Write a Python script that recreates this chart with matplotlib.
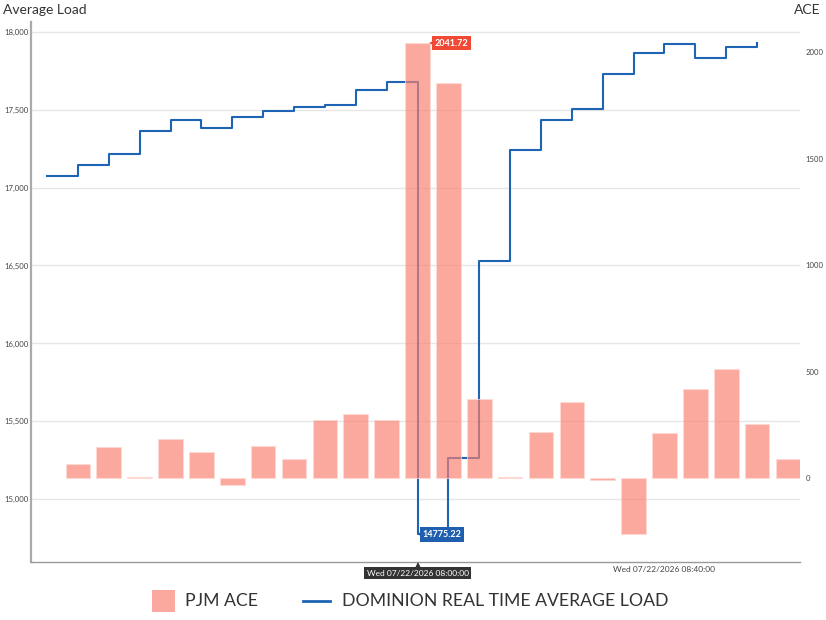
import matplotlib
matplotlib.use("Agg")
import matplotlib.pyplot as plt
import matplotlib.dates as mdates
from matplotlib.ticker import FuncFormatter
from matplotlib.patches import Rectangle
from matplotlib.lines import Line2D
import pandas as pd

plt.rcParams['font.family'] = ['Lato', 'DejaVu Sans']

# ---- data ----
line_times = pd.date_range('2026-07-22 07:00', periods=24, freq='5min')
bar_times = pd.date_range('2026-07-22 07:05', periods=24, freq='5min')

load = [17072, 17145, 17216, 17365, 17434, 17380, 17455, 17489, 17517, 17532,
        17624, 17678, 14775.22, 15265, 16530, 17242, 17434, 17504, 17731, 17861,
        17921, 17833, 17899, 17925]

ace = [64, 148, 3, 183, 122, -34, 150, 89, 272, 300,
       272, 2041.72, 1854, 370, 4, 216, 355, -8, -263, 213,
       418, 513, 255, 91]

left_ticks = [15000, 15500, 16000, 16500, 17000, 17500, 18000]
right_ticks = [0, 500, 1000, 1500, 2000]
xtick_time = pd.Timestamp('2026-07-22 08:40')
xtick_label = 'Wed 07/22/2026 08:40:00'
cross_time = pd.Timestamp('2026-07-22 08:00')
cross_label = 'Wed 07/22/2026 08:00:00'
ace_label_idx = 11
load_label_idx = 12

series_names = ['PJM ACE', 'DOMINION REAL TIME AVERAGE LOAD']

# ---- styles ----
BAR_C = '#fa8072'
LINE_C = '#1e63b4'
TXT = '#333333'
W, H = 826, 620

fig = plt.figure(figsize=(W / 100, H / 100), dpi=100)
ax = fig.add_axes([31 / W, 1 - 562 / H, (800 - 31) / W, (562 - 22) / H])
ax2 = ax.twinx()

ax.step(line_times, load, where='post', color=LINE_C, lw=1.5, zorder=2)
ax2.bar(bar_times, ace, width=4 / 1440, color=BAR_C, alpha=0.68,
        edgecolor=(1, 0.86, 0.83), linewidth=0.8, zorder=2)

t0 = line_times[0]
ax.set_xlim(t0 - pd.Timedelta(seconds=0.52 * 300), t0 + pd.Timedelta(seconds=24.39 * 300))
ax.set_ylim(14598, 18062)
ax2.set_ylim(-394, 2141)

ax.set_yticks(left_ticks)
ax.yaxis.set_major_formatter(FuncFormatter(lambda v, p: f'{v:,.0f}'))
ax2.set_yticks(right_ticks)
ax.grid(axis='y', color='#e6e6e6', lw=1)
ax.set_axisbelow(True)
ax.tick_params(axis='y', length=0, pad=2, labelsize=5.6, labelcolor='#444444')
ax2.tick_params(axis='y', length=0, pad=4, labelsize=5.6, labelcolor='#444444')

ax.set_xticks([xtick_time])
ax.set_xticklabels([xtick_label])
ax.tick_params(axis='x', length=0, pad=3, labelsize=6, labelcolor='#444444')

for a in (ax, ax2):
    a.spines['top'].set_visible(False)
    a.spines['right'].set_visible(False)
    a.spines['left'].set_visible(False)
    a.spines['bottom'].set_visible(False)
ax.spines['left'].set_visible(True)
ax.spines['left'].set_color('#aaaaaa')
ax.spines['left'].set_linewidth(1.6)
ax.spines['bottom'].set_visible(True)
ax.spines['bottom'].set_color('#999999')
ax.spines['bottom'].set_linewidth(1)

# value labels
shift = matplotlib.transforms.ScaledTranslation(2.5 / 100, 0, fig.dpi_scale_trans)
bt = bar_times[ace_label_idx] + pd.Timedelta(minutes=2)
ax2.annotate(f'{ace[ace_label_idx]:.2f}', xy=(bt, ace[ace_label_idx]), xytext=(3.5, 0),
             textcoords='offset points', ha='left', va='center', fontsize=6.5,
             fontweight='bold', color='white', zorder=5,
             bbox=dict(boxstyle='square,pad=0.3', fc='#f04a35', ec='none'))
ax2.plot([bt], [ace[ace_label_idx]], marker='<', ms=4, color='#f04a35',
         markeredgewidth=0, zorder=5, transform=ax2.transData + shift)

lt = line_times[load_label_idx]
ly = ax2.transData.inverted().transform(ax.transData.transform((mdates.date2num(lt), load[load_label_idx])))[1]
ax2.annotate(f'{load[load_label_idx]:.2f}', xy=(lt, ly), xytext=(3.5, 0),
             textcoords='offset points', ha='left', va='center', fontsize=6.5,
             fontweight='bold', color='white', zorder=5,
             bbox=dict(boxstyle='square,pad=0.3', fc='#1f5fae', ec='none'))
ax2.plot([lt], [ly], marker='<', ms=4, color='#1f5fae', markeredgewidth=0, zorder=5,
         transform=ax2.transData + shift)

# crosshair label
ax.annotate(cross_label, xy=(cross_time, 0), xycoords=('data', 'axes fraction'),
            xytext=(0, -8.2), textcoords='offset points', ha='center', va='center',
            fontsize=6, color='white', annotation_clip=False, zorder=6,
            bbox=dict(boxstyle='square,pad=0.3', fc='#333333', ec='none'))
ax.plot([cross_time], [0], marker='^', ms=4, color='#333333', markeredgewidth=0,
        clip_on=False, transform=ax.get_xaxis_transform() + matplotlib.transforms.ScaledTranslation(0, -3 / 100, fig.dpi_scale_trans),
        zorder=6)

# axis titles
fig.text(3 / W, 1 - 10 / H, 'Average Load', ha='left', va='center', fontsize=10, color=TXT)
fig.text(820 / W, 1 - 10 / H, 'ACE', ha='right', va='center', fontsize=10, color=TXT)

# legend (manual)
fig.patches.append(Rectangle((152 / W, 1 - 612 / H), 23 / W, 22 / H, transform=fig.transFigure,
                             fc=BAR_C, alpha=0.68, ec='none'))
fig.text(185 / W, 1 - 601 / H, series_names[0], ha='left', va='center', fontsize=12.7, color=TXT)
fig.lines.append(Line2D([303 / W, 330 / W], [1 - 601 / H, 1 - 601 / H], transform=fig.transFigure,
                        color=LINE_C, lw=2))
fig.text(342 / W, 1 - 601 / H, series_names[1], ha='left', va='center', fontsize=12.7, color=TXT)

fig.savefig('out.png', dpi=100)
